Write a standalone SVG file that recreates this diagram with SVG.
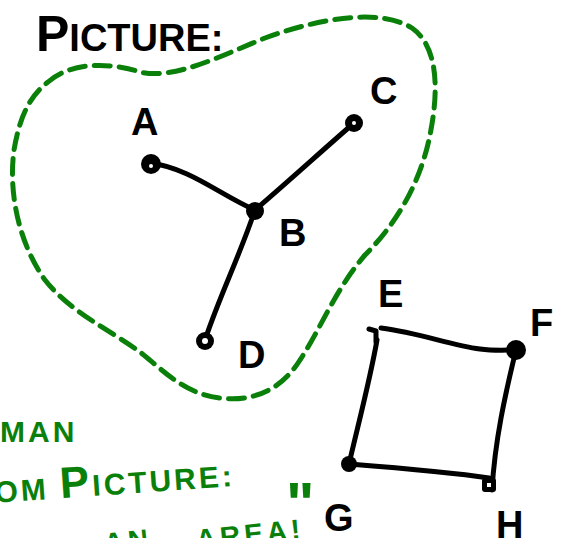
<svg xmlns="http://www.w3.org/2000/svg" width="567" height="538" viewBox="0 0 567 538">
<style>
.blob{fill:none;stroke:#0a800a;stroke-width:5;stroke-dasharray:16 9;stroke-linecap:round;stroke-linejoin:round}
.edge{fill:none;stroke:#000;stroke-width:5;stroke-linecap:round;stroke-linejoin:round}
.dot{fill:#000}
.hole{fill:#fff}
.lbl{font-family:"Liberation Sans",Arial,sans-serif;font-weight:bold;fill:#000;font-size:38px}
.grn{font-family:"Liberation Sans",Arial,sans-serif;font-weight:bold;fill:#0a800a}
</style>
<rect width="567" height="538" fill="#fff"/>
<text class="lbl" x="36" y="51" font-size="27"><tspan font-size="50">P</tspan>ICTURE:</text>
<path class="blob" d="M48,82 C70,62 110,62 140,72 C175,80 220,56 265,38 C320,18 380,8 412,28 C440,48 438,95 430,135 C420,185 395,225 365,255 C335,290 320,330 300,360 C280,392 250,402 220,398 C185,394 165,372 140,352 C110,330 70,312 45,280 C20,245 8,195 14,150 C20,115 30,96 48,82 Z"/>
<g id="connectors">
<path class="edge" d="M150,163 C190,168 220,195 255,210"/>
<path class="edge" d="M255,210 C290,180 325,148 354,123"/>
<path class="edge" d="M255,210 C240,255 220,295 205,340"/>
<path class="edge" d="M381,328 C420,333 450,345 480,349 C495,351 505,350 516,350"/>
<path class="edge" d="M377,340 C370,380 358,425 349,464"/>
<path class="edge" d="M349,464 C400,468 450,472 489,478"/>
<path class="edge" d="M516,350 C505,395 495,440 492,490"/>
</g>
<g id="node-A"><circle class="dot" cx="151" cy="164" r="10"/><circle class="hole" cx="151" cy="166" r="2"/><text class="lbl" x="131" y="135">A</text></g>
<g id="node-B"><circle class="dot" cx="255" cy="211" r="9"/><text class="lbl" x="279" y="246" font-size="30">B</text></g>
<g id="node-C"><circle class="dot" cx="354" cy="123" r="9"/><circle class="hole" cx="354" cy="123" r="2"/><text class="lbl" x="370" y="104">C</text></g>
<g id="node-D"><circle class="dot" cx="205" cy="341" r="9"/><circle class="hole" cx="205" cy="341" r="3"/><text class="lbl" x="238" y="368">D</text></g>
<g id="node-E"><path class="edge" d="M369,329 L376,331 L376,342" stroke-width="6"/><text class="lbl" x="378" y="307" font-size="32">E</text></g>
<g id="node-F"><circle class="dot" cx="516" cy="350" r="10"/><text class="lbl" x="530" y="336">F</text></g>
<g id="node-G"><circle class="dot" cx="349" cy="464" r="8"/><text class="lbl" x="324" y="531" font-size="32">G</text></g>
<g id="node-H"><rect class="dot" x="482" y="478" width="14" height="14" rx="3"/><rect class="hole" x="487" y="483" width="4" height="4"/><text class="lbl" x="496" y="538" font-size="32">H</text></g>
<text class="grn" x="0" y="442" font-size="30" letter-spacing="3">MAN</text>
<text class="grn" x="-6" y="494" font-size="30" letter-spacing="3" transform="rotate(-4 120 480)">OM <tspan font-size="44">P</tspan>ICTURE:</text>
<text class="grn" font-size="28" letter-spacing="4" transform="rotate(-6 200 540)"><tspan x="104" y="543">AN</tspan><tspan x="196" y="549">AREA!</tspan></text>
<text class="grn" x="286" y="524" font-size="60">"</text>
</svg>
